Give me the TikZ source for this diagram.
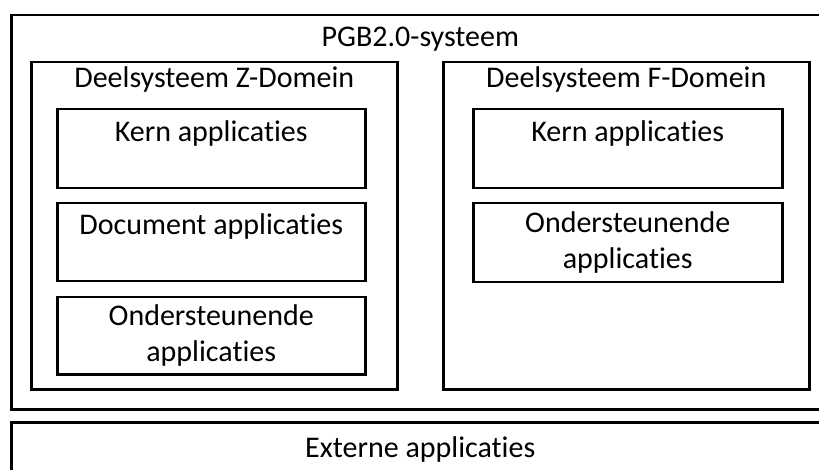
\documentclass[tikz,border=0pt]{standalone}
\usepackage{fontspec}
\setmainfont{Carlito}[Ligatures=NoCommon]
\usetikzlibrary{positioning}

\begin{document}
\begin{tikzpicture}[x=1pt,y=-1pt,
	box/.style={draw,rectangle,line width=2.5pt,anchor=north west,inner sep=0pt},
	app/.style={box,minimum width=308pt,minimum height=78pt,align=center,font=\fontsize{30}{36}\selectfont},
	lbl/.style={anchor=base,font=\fontsize{30}{36}\selectfont}]
	\path[use as bounding box,clip] (0,0) rectangle (819,470);
	% systeem en externe applicaties
	\node[box,minimum width=818pt,minimum height=394pt] (pgb) at (10,14) {};
	\node[box,minimum width=818pt,minimum height=80pt] (ext) at (10,421) {};
	\node[lbl] (pgbtxt) at ([yshift=-33pt]pgb.north) {PGB2.0-systeem};
	\node[lbl] (exttxt) at ([yshift=-36pt]ext.north) {Externe applicaties};
	% deelsystemen
	\node[box,minimum width=366pt,minimum height=327pt] (zdom) at (30,61) {};
	\node[box,minimum width=366pt,minimum height=327pt] (fdom) at (442,61) {};
	\node[lbl] (zdomtxt) at ([yshift=-27pt]zdom.north) {Deelsysteem Z-Domein};
	\node[lbl] (fdomtxt) at ([yshift=-27pt]fdom.north) {Deelsysteem F-Domein};
	% applicaties Z-Domein
	\node[app,minimum height=79pt] (zkern) at (56,108) {Kern applicaties\\~};
	\node[app] (zdoc) at (56,202) {Document applicaties\\~};
	\node[app,minimum height=77pt] (zond) at (56,296) {Ondersteunende\\applicaties};
	% applicaties F-Domein
	\node[app,minimum width=309pt,minimum height=79pt] (fkern) at (472,108) {Kern applicaties\\~};
	\node[app,minimum width=309pt,minimum height=79pt] (fond) at (472,202) {Ondersteunende\\applicaties};
\end{tikzpicture}
\end{document}
